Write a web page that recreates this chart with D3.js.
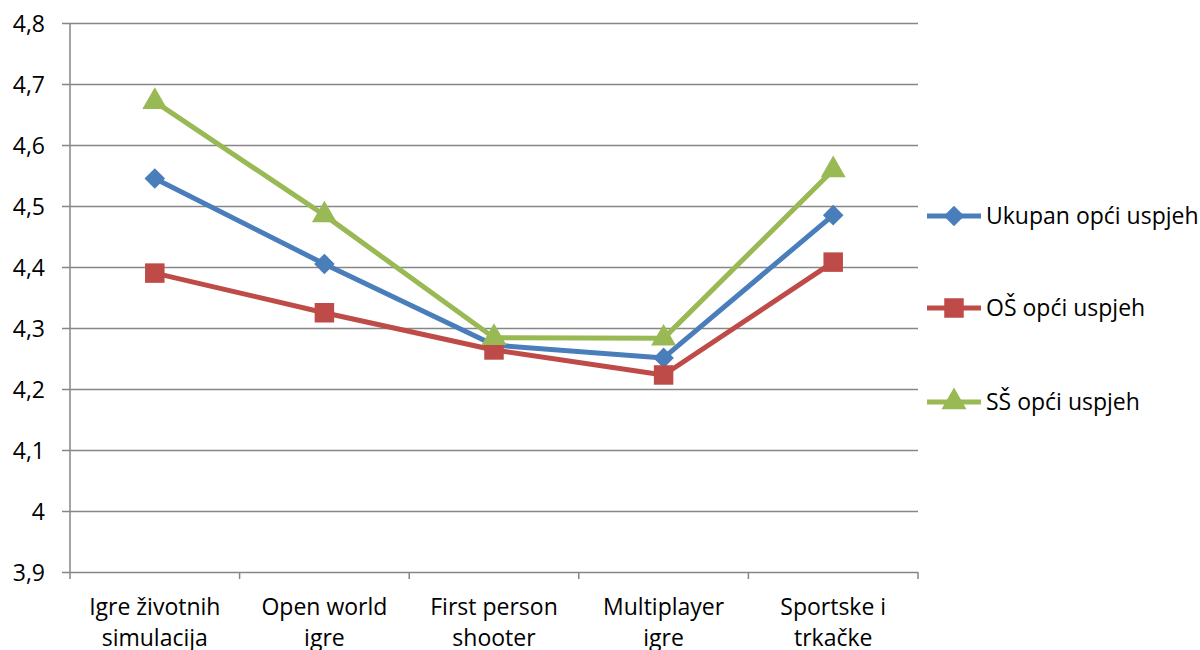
<!DOCTYPE html>
<html><head><meta charset="utf-8">
<script src="https://cdn.jsdelivr.net/npm/d3@7"></script>
<style>body{margin:0;background:#fff}svg{display:block}text{font-family:"Open Sans",Lato,sans-serif;fill:#000}</style>
</head><body><svg id="c" width="1200" height="650"></svg>
<script>
const categories = [["Igre životnih","simulacija"],["Open world","igre"],["First person","shooter"],["Multiplayer","igre"],["Sportske i","trkačke"]];
const seriesNames = ["Ukupan opći uspjeh","OŠ opći uspjeh","SŠ opći uspjeh"];
const ukupan = [4.545, 4.405, 4.272, 4.251, 4.485];
const os = [4.39, 4.325, 4.264, 4.223, 4.408];
const ss = [4.671, 4.485, 4.284, 4.283, 4.559];
const yTicks = [3.9,4.0,4.1,4.2,4.3,4.4,4.5,4.6,4.7,4.8];
const yTickLabels = ["3,9","4","4,1","4,2","4,3","4,4","4,5","4,6","4,7","4,8"];
const colors = ["#4A7EBB","#BE4B48","#98B954"];
const symbols = [d3.symbolDiamond2, d3.symbolSquare, d3.symbolTriangle];

const svg = d3.select("#c");
const L=70,R=918,T=23,B=572;
const FS = "23px";
const x = d3.scaleBand().domain(d3.range(categories.length)).range([L,R]);
const y = d3.scaleLinear().domain([3.9,4.8]).range([B,T]);

const yAxis = d3.axisLeft(y).tickValues(yTicks).tickSize(-(R-L)).tickFormat((d,i)=>yTickLabels[i]);
const gy = svg.append("g").attr("transform",`translate(${L},0)`).call(yAxis);
gy.select(".domain").remove();
gy.selectAll(".tick line").attr("stroke","#868686").attr("stroke-width",1.5).attr("x1",-8);
gy.selectAll(".tick text").style("font-size",FS).attr("x",-25).attr("dy","0.35em");

svg.append("line").attr("x1",L).attr("x2",L).attr("y1",T).attr("y2",B).attr("stroke","#868686").attr("stroke-width",1.5);

const edges = d3.range(categories.length+1).map(i=>L+i*x.step());
svg.selectAll(".xt").data(edges).enter().append("line").attr("x1",d=>d).attr("x2",d=>d).attr("y1",B).attr("y2",B+7).attr("stroke","#868686").attr("stroke-width",1.5);
categories.forEach((c,i)=>{
  const t = svg.append("text").attr("x",x(i)+x.bandwidth()/2).attr("y",615).attr("text-anchor","middle").style("font-size",FS);
  c.forEach((line,j)=>t.append("tspan").attr("x",x(i)+x.bandwidth()/2).attr("dy",j?31:0).text(line));
});

const allSeries=[ukupan,os,ss];
const line = d3.line().x((d,i)=>x(i)+x.bandwidth()/2).y(d=>y(d));
const sizes=[270,380,270];
allSeries.forEach((s,k)=>{
  svg.append("path").datum(s).attr("d",line).attr("fill","none").attr("stroke",colors[k]).attr("stroke-width",5).attr("stroke-linejoin","round");
  svg.selectAll(".m"+k).data(s).enter().append("path")
    .attr("transform",(d,i)=>`translate(${x(i)+x.bandwidth()/2},${y(d)})`)
    .attr("d",d3.symbol().type(symbols[k]).size(sizes[k])).attr("fill",colors[k]);
});

const legY=[216,308,402];
seriesNames.forEach((n,k)=>{
  const g=svg.append("g").attr("transform",`translate(927,${legY[k]})`);
  g.append("line").attr("x1",0).attr("x2",54).attr("stroke",colors[k]).attr("stroke-width",5);
  g.append("path").attr("transform","translate(27,0)").attr("d",d3.symbol().type(symbols[k]).size(sizes[k])).attr("fill",colors[k]);
  g.append("text").attr("x",59).attr("y",8).style("font-size",FS).text(n);
});
</script></body></html>
